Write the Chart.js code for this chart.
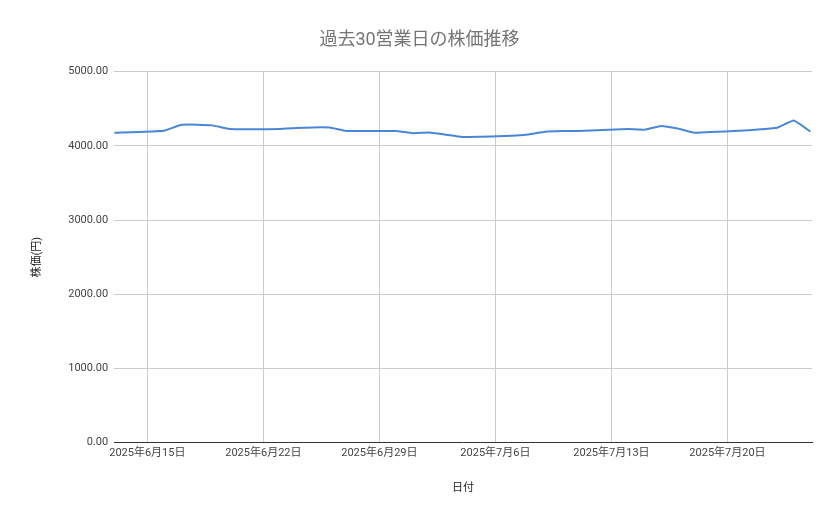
<!DOCTYPE html>
<html>
<head>
<meta charset="utf-8">
<script src="https://cdn.jsdelivr.net/npm/chart.js@4"></script>
<style>
body { margin: 0; background: #fff; }
#wrap { width: 839px; height: 519px; }
</style>
</head>
<body>
<div id="wrap"><canvas id="c"></canvas></div>
<script>
// days counted from 2025-06-13 (business days only)
const days = [0, 3, 4, 5, 6, 7, 10, 11, 12, 13, 14, 17, 18, 19, 20, 21, 24, 25, 26, 27, 28, 31, 32, 33, 34, 35, 38, 39, 40, 41, 42];
const prices = [4176, 4203, 4280, 4285, 4272, 4225, 4228, 4240, 4248, 4246, 4200, 4200, 4170, 4180, 4150, 4120, 4134, 4152, 4188, 4198, 4200, 4225, 4218, 4268, 4232, 4176, 4205, 4222, 4244, 4340, 4192];
const tickDays = [2, 9, 16, 23, 30, 37];
const tickLabels = ["2025年6月15日", "2025年6月22日", "2025年6月29日", "2025年7月6日", "2025年7月13日", "2025年7月20日"];

const ctx = document.getElementById('c').getContext('2d');
new Chart(ctx, {
    type: 'line',
    data: {
        datasets: [{
            data: days.map((d, i) => ({ x: d, y: prices[i] })),
            borderColor: '#4a86d8',
            borderWidth: 2,
            pointRadius: 0,
            tension: 0.1
        }]
    },
    options: {
        responsive: true,
        maintainAspectRatio: false,
        animation: false,
        layout: { padding: { left: 27, right: 27, top: 14, bottom: 20 } },
        plugins: {
            legend: { display: false },
            tooltip: { enabled: false },
            title: {
                display: true,
                text: '過去30営業日の株価推移',
                color: '#757575',
                font: { family: 'Roboto, "Noto Sans CJK JP"', size: 18, weight: 'normal' },
                padding: { top: 16, bottom: 20 }
            }
        },
        scales: {
            x: {
                type: 'linear',
                min: 0,
                max: 42.1,
                afterBuildTicks: (axis) => { axis.ticks = tickDays.map(v => ({ value: v })); },
                ticks: {
                    color: '#444',
                    font: { family: 'Roboto, "Noto Sans CJK JP"', size: 11 },
                    maxRotation: 0,
                    padding: 4,
                    callback: (v) => tickLabels[tickDays.indexOf(v)]
                },
                grid: { color: '#cccccc', drawTicks: false },
                border: { color: '#333' },
                title: {
                    display: true, text: '日付', color: '#222',
                    font: { family: 'Roboto, "Noto Sans CJK JP"', size: 11 },
                    padding: { top: 18 }
                }
            },
            y: {
                min: 0,
                max: 5000,
                ticks: {
                    stepSize: 1000,
                    color: '#444',
                    padding: 6,
                    font: { family: 'Roboto, "Noto Sans CJK JP"', size: 11 },
                    callback: (v) => v.toFixed(2)
                },
                grid: { color: '#cccccc', drawTicks: false },
                border: { display: false },
                title: {
                    display: true, text: '株価(円)', color: '#222',
                    font: { family: 'Roboto, "Noto Sans CJK JP"', size: 11 },
                    padding: { bottom: 18 }
                }
            }
        }
    }
});
</script>
</body>
</html>
